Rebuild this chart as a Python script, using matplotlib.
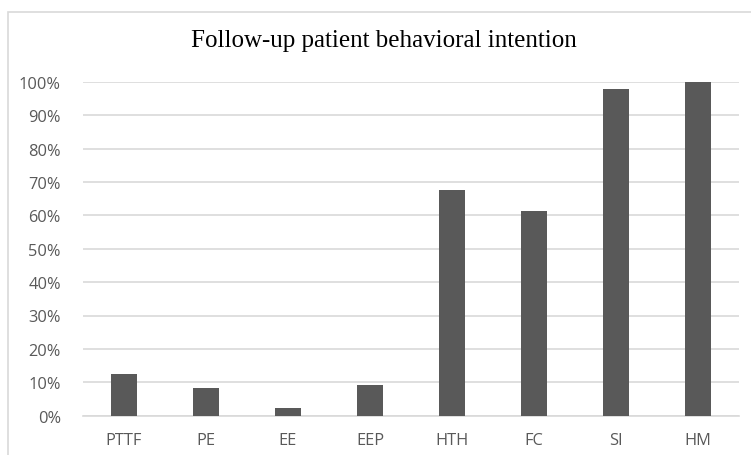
import matplotlib
matplotlib.use("Agg")
import matplotlib.pyplot as plt
from matplotlib.patches import Rectangle
from matplotlib.ticker import MultipleLocator, FuncFormatter

categories = ["PTTF", "PE", "EE", "EEP", "HTH", "FC", "SI", "HM"]
values = [12.4, 8.4, 2.4, 9.1, 67.7, 61.4, 97.9, 100.0]
title = "Follow-up patient behavioral intention"

W, H = 751, 456
fig = plt.figure(figsize=(W / 100, H / 100), dpi=100)

# outer chart frame
fig.patches.append(Rectangle((8 / W, -0.05), 1.2, (H - 13) / H + 0.05,
                             transform=fig.transFigure, fill=False,
                             edgecolor="#d9d9d9", linewidth=1.2))

ax = fig.add_axes([83 / W, (H - 416.7) / H, (739 - 83) / W, (416.7 - 82.7) / H])
x = range(len(categories))
ax.bar(x, values, width=0.32, color="#595959", zorder=3)

ax.set_xlim(-0.5, len(categories) - 0.5)
ax.set_ylim(0, 100)
ax.yaxis.set_major_locator(MultipleLocator(10))
ax.yaxis.set_major_formatter(FuncFormatter(lambda v, p: f"{v:.0f}%"))
ax.set_xticks(list(x))
ax.set_xticklabels(categories)

ax.grid(axis="y", color="#d9d9d9", linewidth=1.2, zorder=0)
for s in ["top", "right", "left"]:
    ax.spines[s].set_visible(False)
ax.spines["bottom"].set_color("#d9d9d9")
ax.spines["bottom"].set_linewidth(1.2)
ax.tick_params(axis="both", length=0, labelcolor="#595959", labelsize=11.8)
ax.tick_params(axis="y", pad=16)
ax.tick_params(axis="x", pad=12)
for lab in ax.get_xticklabels() + ax.get_yticklabels():
    lab.set_fontfamily("Open Sans")

fig.text(384 / W, (H - 41) / H, title, ha="center", va="center",
         fontsize=18, family="Liberation Serif", color="#000000")

fig.savefig("out.png", dpi=100)
